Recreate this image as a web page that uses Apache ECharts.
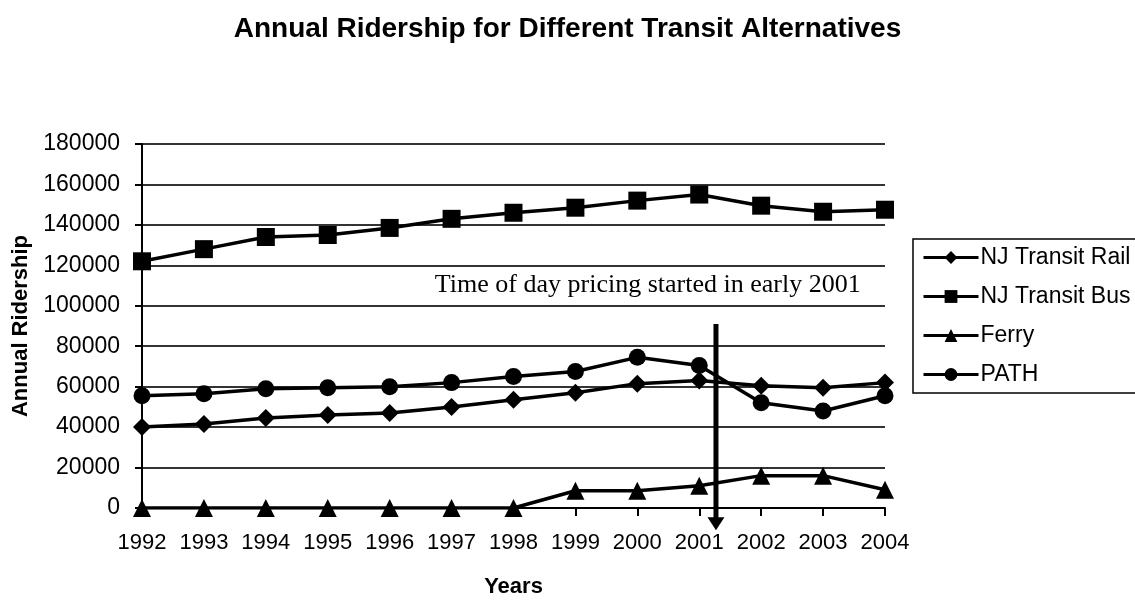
<!DOCTYPE html>
<html>
<head>
<meta charset="utf-8">
<script src="https://cdn.jsdelivr.net/npm/echarts@6/dist/echarts.min.js"></script>
<style>
  html, body { margin: 0; padding: 0; background: #fff; }
  #main { width: 1135px; height: 603px; }
</style>
</head>
<body>
<div id="main"></div>
<script>
// chart data
var years = ['1992', '1993', '1994', '1995', '1996', '1997', '1998', '1999', '2000', '2001', '2002', '2003', '2004'];
var rail = [40000, 41500, 44500, 46000, 47000, 50000, 53500, 57000, 61500, 63000, 60500, 59500, 62000];
var bus = [122000, 128000, 134000, 135000, 138500, 143000, 146000, 148500, 152000, 155000, 149500, 146500, 147500];
var ferry = [0, 0, 0, 0, 0, 0, 0, 8500, 8500, 11000, 16000, 16000, 9000];
var path = [55500, 56500, 59000, 59500, 60000, 62000, 65000, 67500, 74500, 70500, 52000, 48000, 55500];

var yMin = 0, yMax = 180000, yStep = 20000;

// annotation
var noteText = 'Time of day pricing started in early 2001';
var noteAt = ['1996', 0.73, 110000];   // category, fraction of step, value
var arrowAt = ['2001', 0.27, 91000, -11000];

var sans = '"Liberation Sans", Arial, sans-serif';

function lineSeries(name, data, symbol, size) {
  return {
    name: name,
    type: 'line',
    data: data,
    symbol: symbol,
    symbolSize: size,
    showAllSymbol: true,
    lineStyle: { color: '#000', width: 3.5 },
    itemStyle: { color: '#000' },
    emphasis: { disabled: true },
    animation: false
  };
}

var chart = echarts.init(document.getElementById('main'));

var option = {
  backgroundColor: '#fff',
  animation: false,
  title: {
    text: 'Annual Ridership for Different Transit Alternatives',
    left: 'center',
    top: 10,
    textStyle: { fontFamily: sans, fontSize: 28, fontWeight: 'bold', color: '#000' }
  },
  grid: { left: 142, right: 250, top: 144, bottom: 89, containLabel: false },
  legend: {
    orient: 'vertical',
    left: 913,
    top: 239,
    padding: [7, 9, 7, 9],
    borderColor: '#000',
    borderWidth: 1.5,
    itemWidth: 55,
    itemHeight: 16,
    itemGap: 16,
    lineStyle: { color: '#000', width: 3 },
    textStyle: { fontFamily: sans, fontSize: 23, color: '#000', padding: [0, 0, 0, -3] },
    data: ['NJ Transit Rail', 'NJ Transit Bus', 'Ferry', 'PATH']
  },
  xAxis: {
    type: 'category',
    data: years,
    boundaryGap: false,
    name: 'Years',
    nameLocation: 'middle',
    nameGap: 68,
    nameTextStyle: { fontFamily: sans, fontSize: 22, fontWeight: 'bold', color: '#000' },
    axisLine: { lineStyle: { color: '#000', width: 2 } },
    axisTick: { show: true, interval: 0, length: 8, lineStyle: { color: '#000', width: 2 } },
    axisLabel: { interval: 0, fontFamily: sans, fontSize: 22, color: '#000', margin: 24 },
    splitLine: { show: false }
  },
  yAxis: {
    type: 'value',
    min: yMin,
    max: yMax,
    interval: yStep,
    name: 'Annual Ridership',
    nameLocation: 'middle',
    nameGap: 108,
    nameTextStyle: { fontFamily: sans, fontSize: 22, fontWeight: 'bold', color: '#000' },
    axisLine: { show: true, lineStyle: { color: '#000', width: 2 } },
    axisTick: { show: true, length: 7, lineStyle: { color: '#000', width: 2 } },
    axisLabel: {
      fontFamily: sans, fontSize: 23, color: '#000', margin: 22,
      formatter: function (v) { return String(v); }
    },
    splitLine: { show: true, lineStyle: { color: '#333', width: 2 } }
  },
  series: [
    lineSeries('NJ Transit Rail', rail, 'diamond', 18),
    lineSeries('NJ Transit Bus', bus, 'rect', 18),
    lineSeries('Ferry', ferry, 'triangle', 18),
    lineSeries('PATH', path, 'circle', 17)
  ]
};
chart.setOption(option);

// annotation text + arrow, placed from data coordinates
function xAt(cat, frac) {
  var i = years.indexOf(cat);
  var x0 = chart.convertToPixel({ xAxisIndex: 0 }, years[i]);
  var x1 = chart.convertToPixel({ xAxisIndex: 0 }, years[i + 1]);
  return x0 + (x1 - x0) * frac;
}
function yAt(v) {
  return chart.convertToPixel({ yAxisIndex: 0 }, v);
}

var tx = xAt(noteAt[0], noteAt[1]), ty = yAt(noteAt[2]);
var ax = xAt(arrowAt[0], arrowAt[1]);
var ayTop = yAt(arrowAt[2]), ayTip = yAt(arrowAt[3]);

chart.setOption({
  graphic: [
    {
      type: 'text',
      z: 100,
      style: {
        text: noteText,
        x: tx, y: ty,
        align: 'left',
        verticalAlign: 'middle',
        font: '26px "Liberation Serif", "Times New Roman", serif',
        fill: '#000'
      }
    },
    {
      type: 'line',
      z: 100,
      shape: { x1: ax, y1: ayTop, x2: ax, y2: ayTip - 12 },
      style: { stroke: '#000', lineWidth: 5 }
    },
    {
      type: 'polygon',
      z: 100,
      shape: { points: [[ax - 8.5, ayTip - 13], [ax + 8.5, ayTip - 13], [ax, ayTip]] },
      style: { fill: '#000' }
    }
  ]
});
</script>
</body>
</html>
